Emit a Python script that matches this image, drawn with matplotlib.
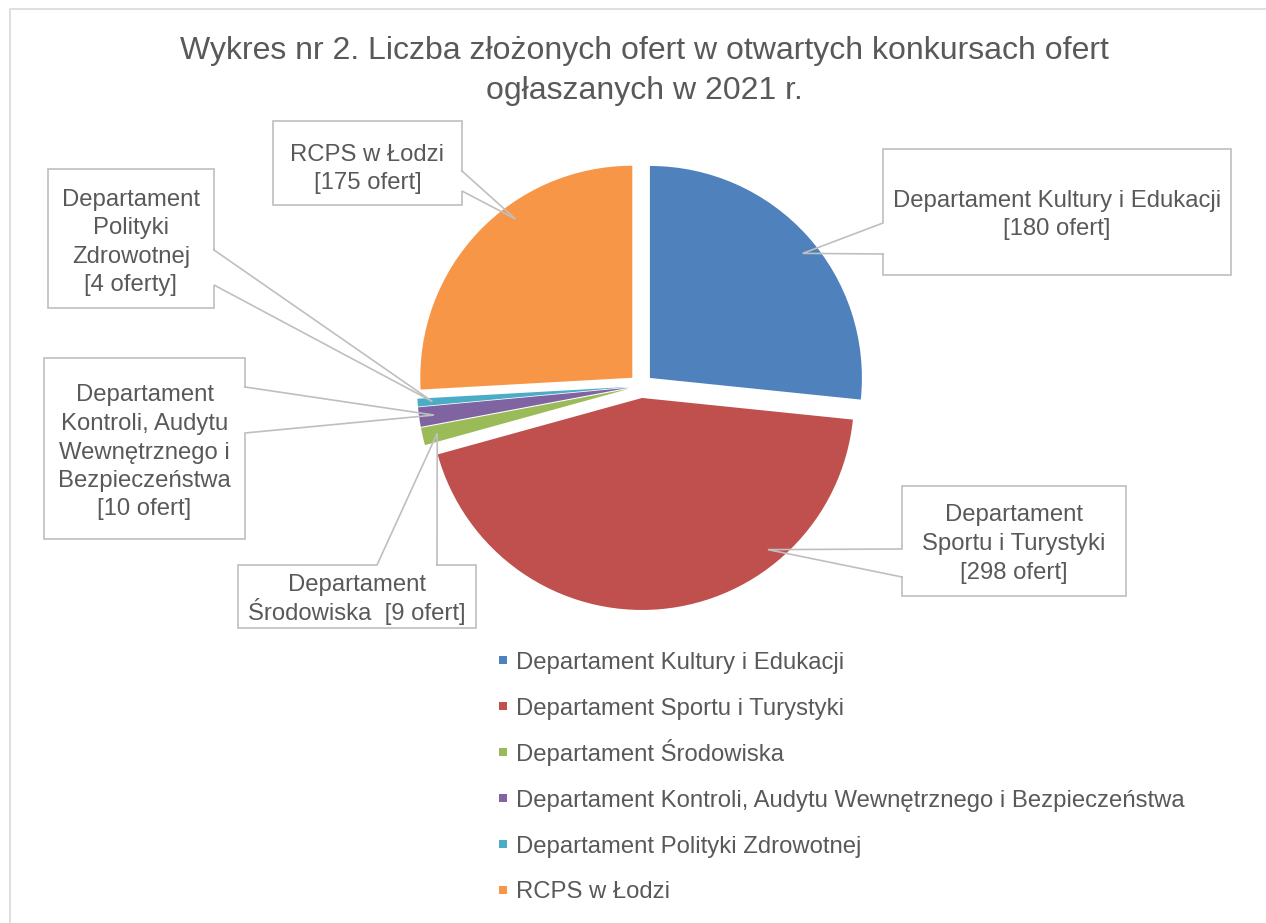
import numpy as np
import matplotlib
matplotlib.use('Agg')
import matplotlib.pyplot as plt
from matplotlib.patches import Rectangle

# DATA
categories = ['Departament Kultury i Edukacji',
              'Departament Sportu i Turystyki',
              'Departament Środowiska',
              'Departament Kontroli, Audytu Wewnętrznego i Bezpieczeństwa',
              'Departament Polityki Zdrowotnej',
              'RCPS w Łodzi']
offers = [180, 298, 9, 10, 4, 175]
label_texts = ['Departament Kultury i Edukacji\n[180 ofert]',
               'Departament\nSportu i Turystyki\n[298 ofert]',
               'Departament\nŚrodowiska  [9 ofert]',
               'Departament\nKontroli, Audytu\nWewnętrznego i\nBezpieczeństwa\n[10 ofert]',
               'Departament\nPolityki\nZdrowotnej\n[4 oferty]',
               'RCPS w Łodzi\n[175 ofert]']
colors = ['#4F81BD', '#C0504D', '#9BBB59', '#8064A2', '#4BACC6', '#F79646']

plt.rcParams['font.family'] = ['Liberation Sans', 'DejaVu Sans']
TXT = '#595959'
LINE = '#BFBFBF'
FS = 17.2

W, H = 1266, 923
fig = plt.figure(figsize=(W / 100, H / 100), dpi=100)
ax = fig.add_axes([0, 0, 1, 1])

def fy(y):
    # pixel row (top-down) -> data y
    return H - y

# PIE
wedges, _ = ax.pie(offers, colors=colors, startangle=90, counterclock=False,
                   center=(641, fy(386)), radius=212, explode=[12] * len(offers),
                   wedgeprops=dict(linewidth=0))
ax.set_xlim(0, W)
ax.set_ylim(0, H)
ax.set_aspect('equal')
ax.axis('off')

# callout boxes: (left, top, right, bottom), side where the pointer attaches,
# pointer base positions along that side, anchor fraction across the wedge
boxes = [(883, 149, 1231, 275), (902, 486, 1126, 596), (238, 565, 476, 628),
         (44, 358, 245, 539), (48, 169, 214, 308), (273, 121, 462, 205)]
sides = ['left', 'left', 'top', 'right', 'right', 'right']
bases = [(223, 254), (549, 577), (377, 437), (387, 433), (250, 285), (171, 191)]
anchor_t = [0.47, 0.72, 0.5, 0.5, 0.5, 0.39]
text_dy = [9, 9, 9, 10, 10, 12]
pitch = 28.5

def callout(box, side, base, tip):
    l, t, r, b = box
    a1, a2 = base
    if side == 'left':
        pts = [(l, a2), (l, b), (r, b), (r, t), (l, t), (l, a1), tip, (l, a2)]
    elif side == 'right':
        pts = [(r, a1), (r, t), (l, t), (l, b), (r, b), (r, a2), tip, (r, a1)]
    else:
        pts = [(a2, t), (r, t), (r, b), (l, b), (l, t), (a1, t), tip, (a2, t)]
    xs = [p[0] for p in pts]
    ys = [fy(p[1]) for p in pts]
    ax.plot(xs, ys, color=LINE, lw=1.2, solid_joinstyle='miter', zorder=3)

for w, box, side, base, t, txt, dy in zip(wedges, boxes, sides, bases, anchor_t,
                                          label_texts, text_dy):
    ang = np.deg2rad(w.theta1 + t * (w.theta2 - w.theta1))
    cx, cy = w.center
    tip = (cx + 0.93 * w.r * np.cos(ang), H - (cy + 0.93 * w.r * np.sin(ang)))
    callout(box, side, base, tip)
    l, tp, r, b = box
    lines = txt.split('\n')
    n = len(lines)
    for i, line in enumerate(lines):
        yb = (tp + b) / 2 + dy + (i - (n - 1) / 2) * pitch
        ax.text((l + r) / 2, fy(yb), line, ha='center', va='baseline',
                fontsize=FS, color=TXT)

# TITLE
title_lines = ['Wykres nr 2. Liczba złożonych ofert w otwartych konkursach ofert',
               'ogłaszanych w 2021 r.']
for i, line in enumerate(title_lines):
    ax.text(644, fy(58.5 + 40 * i), line, ha='center', va='baseline',
            fontsize=23.0, color=TXT)

# LEGEND
for i, (w, name) in enumerate(zip(wedges, categories)):
    yc = 660 + 46 * i
    ax.add_patch(Rectangle((499, fy(yc + 4)), 8, 8, facecolor=w.get_facecolor(),
                           edgecolor='none'))
    ax.text(515.5, fy(yc + 8.5), name, ha='left', va='baseline',
            fontsize=FS, color=TXT)

# chart border
ax.plot([10, 10, W], [0, fy(9), fy(9)], color='#D9D9D9', lw=1.2, clip_on=False)

fig.savefig('out.png', dpi=100)
